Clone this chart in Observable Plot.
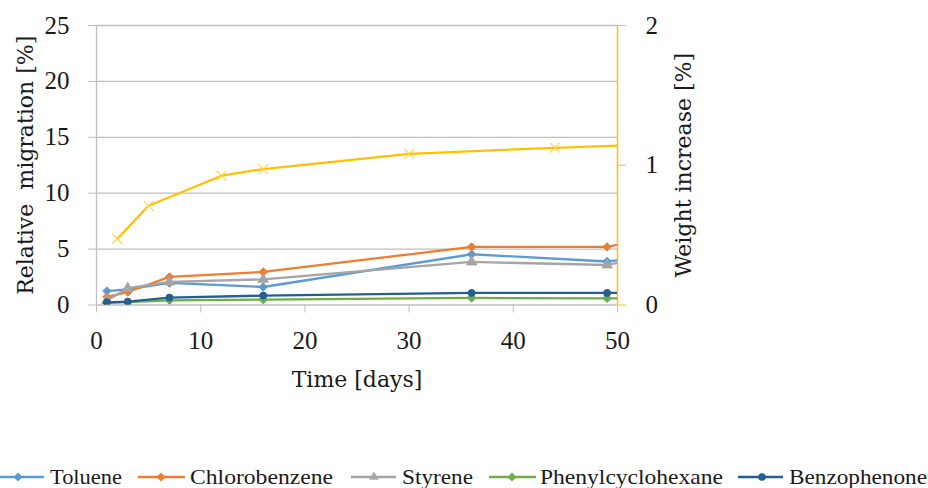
<!DOCTYPE html>
<html><head><meta charset="utf-8">
<script src="https://cdn.jsdelivr.net/npm/d3@7"></script>
<script src="https://cdn.jsdelivr.net/npm/@observablehq/plot@0.6"></script>
<style>body{margin:0;background:#fff} #chart svg{display:block}</style>
</head><body><div id="chart"></div>
<script>
// ---- data ----
const days = [1, 3, 7, 16, 36, 49, 56];
const toluene = [1.25, 1.4, 1.97, 1.61, 4.54, 3.89, 4.66];
const chlorobenzene = [0.72, 1.16, 2.51, 2.96, 5.2, 5.2, 6.46];
const styrene = [0.4, 1.5, 2.06, 2.3, 3.85, 3.58, 4.8];
const phenylcyclohexane = [0.2, 0.25, 0.42, 0.48, 0.63, 0.6, 0.6];
const benzophenone = [0.24, 0.3, 0.66, 0.84, 1.08, 1.08, 1.08];
const weightDays = [2, 5, 12, 16, 30, 44, 56];
const weightIncrease = [0.473, 0.71, 0.925, 0.973, 1.082, 1.125, 1.155];
const leftTicks = [0, 5, 10, 15, 20, 25];
const rightTicks = [0, 1, 2];
const xTicks = [0, 10, 20, 30, 40, 50];

const seriesNames = ["Toluene", "Chlorobenzene", "Styrene", "Phenylcyclohexane", "Benzophenone"];
const seriesValues = [toluene, chlorobenzene, styrene, phenylcyclohexane, benzophenone];
const seriesColors = ["#5B9BD5", "#ED7D31", "#A5A5A5", "#70AD47", "#255E91"];
const seriesSymbols = ["diamond2", "diamond2", "triangle", "diamond2", "circle"];
const weightColor = "#FFC000";

const RATIO = 25 / 2; // left axis max / right axis max
const FONT = "Liberation Serif";
const TFONT = "DejaVu Serif";
const TXT = "#1a1a1a";
const GRID = "#BFBFBF";

const marks = [];
marks.push(Plot.gridY(leftTicks.slice(1), {stroke: GRID, strokeOpacity: 1, strokeWidth: 1.3}));
marks.push(Plot.ruleY([0], {stroke: GRID, strokeWidth: 1.3}));
marks.push(Plot.ruleX([0], {stroke: GRID, strokeWidth: 1.3}));
marks.push(Plot.axisY(leftTicks, {anchor: "left", tickSize: 8, tickPadding: 19, stroke: GRID, fill: TXT, fontSize: 25, fontFamily: FONT, label: null}));
marks.push(Plot.axisX(xTicks, {anchor: "bottom", tickSize: 8, tickPadding: 18, stroke: GRID, fill: TXT, fontSize: 25, fontFamily: FONT, label: null}));
marks.push(Plot.ruleX([50], {stroke: weightColor, strokeWidth: 1.5}));
marks.push(Plot.axisY(rightTicks.map(d => d * RATIO), {anchor: "right", tickSize: 8, tickPadding: 20, stroke: weightColor, fill: TXT, fontSize: 25, fontFamily: FONT, tickFormat: d => d / RATIO, label: null}));

seriesNames.forEach((name, k) => {
  const rows = days.map((d, i) => ({day: d, value: seriesValues[k][i]}));
  marks.push(Plot.line(rows, {x: "day", y: "value", stroke: seriesColors[k], strokeWidth: 2.3, clip: true}));
  marks.push(Plot.dot(rows, {x: "day", y: "value", symbol: seriesSymbols[k], fill: seriesColors[k], stroke: seriesColors[k], r: seriesSymbols[k] === "circle" ? 3.5 : 3.8, strokeWidth: 1, clip: true}));
});
const wRows = weightDays.map((d, i) => ({day: d, value: weightIncrease[i] * RATIO}));
marks.push(Plot.line(wRows, {x: "day", y: "value", stroke: weightColor, strokeWidth: 2.3, clip: true}));
marks.push(Plot.dot(wRows, {x: "day", y: "value", symbol: "times", stroke: "#FFD24D", r: 4.5, strokeWidth: 1.2, clip: true}));

marks.push(Plot.text(["Relative\u00a0 migration [%]"], {frameAnchor: "left", textAnchor: "middle", rotate: -90, dx: -71, fontSize: 22, fontFamily: TFONT, fill: TXT, lineAnchor: "middle"}));
marks.push(Plot.text(["Weight increase [%]"], {frameAnchor: "right", textAnchor: "middle", rotate: -90, dx: 66, fontSize: 22, fontFamily: TFONT, fill: TXT, lineAnchor: "middle"}));
marks.push(Plot.text(["Time [days]"], {frameAnchor: "bottom", dy: 75, fontSize: 22, fontFamily: TFONT, fill: TXT, lineAnchor: "middle"}));

const chart = Plot.plot({
  width: 928, height: 440,
  marginLeft: 96, marginRight: 311, marginTop: 25, marginBottom: 135.5,
  x: {domain: [0, 50]},
  y: {domain: [0, 25]},
  style: {fontFamily: FONT, background: "#fff", overflow: "visible"},
  marks
});
document.getElementById("chart").appendChild(chart);

// ---- legend below the chart ----
const legendLayout = [
  {x1: -8, x2: 44, mx: 18, tx: 50, tw: 72},
  {x1: 138, x2: 185, mx: 161, tx: 190, tw: 143},
  {x1: 351, x2: 396, mx: 374, tx: 402, tw: 71},
  {x1: 489, x2: 536, mx: 512, tx: 540, tw: 183},
  {x1: 738, x2: 783, mx: 762, tx: 789, tw: 138}
];
const symMap = {diamond2: d3.symbolSquare, triangle: d3.symbolTriangle, circle: d3.symbolCircle};
const lg = d3.select("#chart").append("svg").attr("width", 928).attr("height", 48).style("display", "block");
seriesNames.forEach((name, k) => {
  const L = legendLayout[k], cy = 37;
  lg.append("line").attr("x1", L.x1).attr("x2", L.x2).attr("y1", cy).attr("y2", cy)
    .attr("stroke", seriesColors[k]).attr("stroke-width", 2.5);
  const s = seriesSymbols[k];
  lg.append("path").attr("d", d3.symbol(symMap[s], s === "circle" ? 45 : 40)())
    .attr("transform", `translate(${L.mx},${cy}) rotate(${s === "diamond2" ? 45 : 0})`)
    .attr("fill", seriesColors[k]);
  lg.append("text").attr("x", L.tx).attr("y", cy).attr("dy", "0.33em")
    .attr("font-family", FONT).attr("font-size", 22).attr("fill", TXT)
    .attr("textLength", L.tw).attr("lengthAdjust", "spacingAndGlyphs").text(name);
});
</script></body></html>
